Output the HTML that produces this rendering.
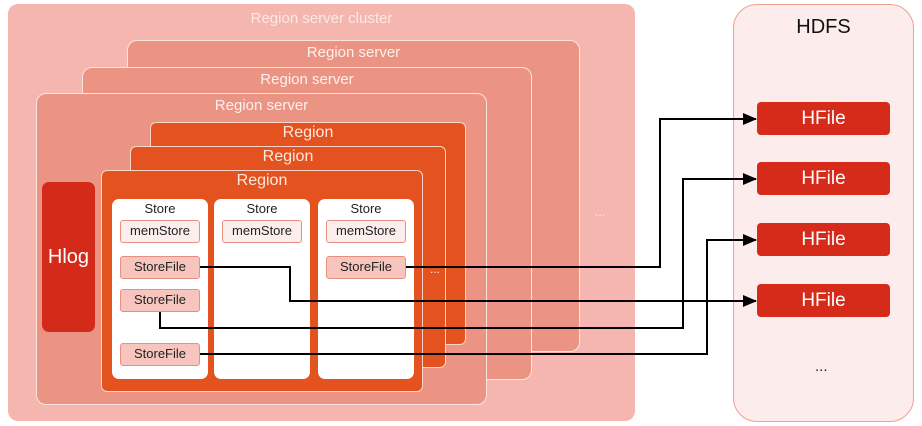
<!DOCTYPE html><html><head><style>
body{margin:0;width:922px;height:426px;background:#fff;font-family:"Liberation Sans",sans-serif;position:relative;overflow:hidden}
div{position:absolute;box-sizing:border-box}
.rs{background:#ec9484;border:1.5px solid #fbe3de;border-radius:10px;color:#fdf0ec;font-size:15px;text-align:center;padding-top:3px}
.rg{background:#e4531f;border:1.5px solid #fbd6c8;border-radius:6px;color:#fde8de;font-size:16px;text-align:center;padding-top:1px}
.st{background:#fff;border-radius:7px;font-size:13px;text-align:center;color:#222;padding-top:2px;top:199px;height:180px;width:96px}
.b{left:8px;width:80px;height:23px;border:1.5px solid #e8907f;border-radius:3px;font-size:13px;line-height:20px;text-align:center;color:#222}
.m{background:#fdeeee}.f{background:#f7c5bd}
.hf{left:757px;width:133px;height:33px;background:#d62b1a;border-radius:4px;color:#fff;font-size:19px;line-height:33px;text-align:center}
</style></head><body>
<div style="left:8px;top:4px;width:627px;height:417px;background:#f4b6ae;border-radius:10px;color:#fde8e4;font-size:15px;text-align:center;padding-top:6px">Region server cluster</div>
<div style="left:595px;top:205px;color:#fde8e4;font-size:12px">...</div>
<div class="rs" style="left:127px;top:40px;width:453px;height:312px">Region server</div>
<div class="rs" style="left:82px;top:67px;width:450px;height:313px">Region server</div>
<div class="rs" style="left:36px;top:93px;width:451px;height:312px">Region server</div>
<div class="rg" style="left:150px;top:122px;width:316px;height:223px">Region</div>
<div class="rg" style="left:130px;top:146px;width:316px;height:222px">Region</div>
<div class="rg" style="left:101px;top:170px;width:322px;height:222px">Region</div>
<div style="left:430px;top:262px;color:#fde8e4;font-size:12px">...</div>
<div style="left:42px;top:182px;width:53px;height:150px;background:#d42a1a;border-radius:7px;color:#fff;font-size:20px;line-height:150px;text-align:center">Hlog</div>
<div class="st" style="left:112px">Store
<div class="b m" style="top:21px">memStore</div>
<div class="b f" style="top:57px">StoreFile</div>
<div class="b f" style="top:90px">StoreFile</div>
<div class="b f" style="top:144px">StoreFile</div></div>
<div class="st" style="left:214px">Store<div class="b m" style="top:21px">memStore</div></div>
<div class="st" style="left:318px">Store<div class="b m" style="top:21px">memStore</div><div class="b f" style="top:57px">StoreFile</div></div>
<div style="left:733px;top:4px;width:181px;height:418px;background:#fcecec;border:1.5px solid #f0a090;border-radius:24px;color:#111;font-size:20px;text-align:center;padding-top:11px">HDFS</div>
<div class="hf" style="top:102px">HFile</div>
<div class="hf" style="top:162px">HFile</div>
<div class="hf" style="top:223px">HFile</div>
<div class="hf" style="top:284px">HFile</div>
<div style="left:815px;top:358px;color:#222;font-size:15px">...</div>
<svg width="922" height="426" style="position:absolute;left:0;top:0">
<defs><marker id="h" markerWidth="14" markerHeight="12" refX="13" refY="6" orient="auto" markerUnits="userSpaceOnUse"><path d="M0,0L14,6L0,12z" fill="#000"/></marker></defs>
<g fill="none" stroke="#000" stroke-width="2">
<polyline points="406,267 660,267 660,119 756,119" marker-end="url(#h)"/>
<polyline points="200,267 290,267 290,301 756,301" marker-end="url(#h)"/>
<polyline points="160,312 160,328 683,328 683,179 756,179" marker-end="url(#h)"/>
<polyline points="200,354 707,354 707,240 756,240" marker-end="url(#h)"/>
</g></svg>
</body></html>
